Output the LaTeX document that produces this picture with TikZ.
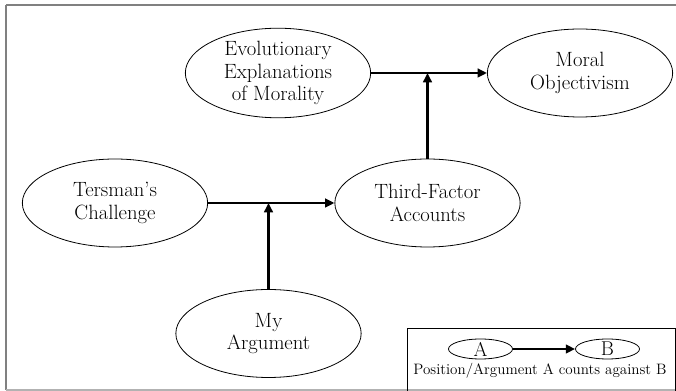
\documentclass[tikz,border=0pt]{standalone}
\usetikzlibrary{shapes.geometric,arrows.meta}
\begin{document}
\begin{tikzpicture}[x=0.75pt,y=-0.75pt,
  bubble/.style={draw,ellipse,line width=0.6pt,minimum width=139pt,minimum height=66pt,inner sep=0pt,align=center,font=\fontsize{15.5}{16.8}\selectfont},
  small/.style={draw,ellipse,line width=0.6pt,minimum width=48pt,minimum height=15pt,inner sep=0pt,font=\fontsize{15}{16}\selectfont},
  counts/.style={line width=1.8pt,-{Triangle[length=7pt,width=6.5pt]}}]
\useasboundingbox (0,0) rectangle (676,391);
\draw[gray,line width=1.3pt] (6,5) -- (676,5);
\draw[gray,line width=1.3pt] (6,5) -- (6,390);
\draw[gray!60,line width=1pt] (6,390) -- (676,390);
\node[bubble] (evo) at (278,73) {Evolutionary\\Explanations\\of Morality};
\node[bubble] (moral) at (580,73) {Moral\\Objectivism};
\node[bubble] (ters) at (115,203) {Tersman's\\Challenge};
\node[bubble] (third) at (427.5,203) {Third-Factor\\Accounts};
\node[bubble] (my) at (268.5,333.5) {My\\Argument};
\draw[counts] (evo.east) -- (moral.west);
\draw[counts] (ters.east) -- (third.west);
\coordinate (j1) at (third.north |- evo.east);
\coordinate (j2) at (my.north |- ters.east);
\draw[counts] (third.north) -- (j1);
\draw[counts] (my.north) -- (j2);
% legend
\node[draw,line width=0.6pt,minimum width=201pt,minimum height=47.25pt,inner sep=0pt,anchor=north west] (leg) at (407,328) {};
\node[small] (la) at (480.5,349) {A};
\node[small] (lb) at (607.5,349) {B};
\draw[counts] (la.east) -- (lb.west);
\node[font=\fontsize{11.3}{13}\selectfont] (lt) at (540,371) {Position/Argument A counts against B};
\end{tikzpicture}
\end{document}
